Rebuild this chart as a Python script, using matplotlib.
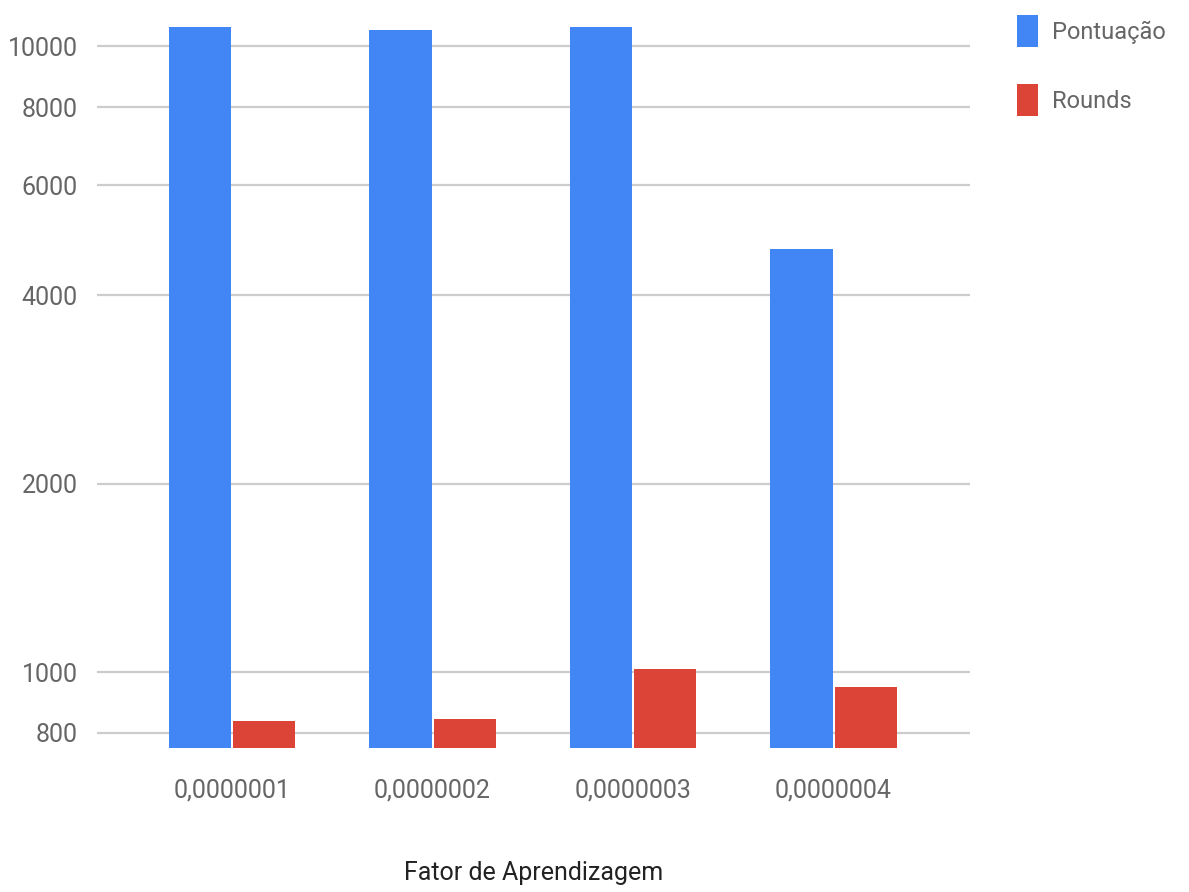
import numpy as np
import matplotlib.pyplot as plt

# learning-rate experiment results
fatores = ['0,0000001', '0,0000002', '0,0000003', '0,0000004']
pontuacao = [10740, 10620, 10740, 4750]
rounds = [834, 842, 1013, 946]
yticks = [800, 1000, 2000, 4000, 6000, 8000, 10000]

plt.rcParams['font.family'] = ['Roboto', 'DejaVu Sans']

fig = plt.figure(figsize=(11.89, 8.92), dpi=100)
ax = fig.add_axes([0.0816, 0.1614, 0.7342, 0.8162])

x = np.arange(len(fatores))
w = 0.31
ax.bar(x - 0.16, pontuacao, w, color='#4285F4', label='Pontuação', zorder=3)
ax.bar(x + 0.16, rounds, w, color='#DB4437', label='Rounds', zorder=3)

ax.set_yscale('log')
ax.set_ylim(756, 11020)
ax.set_xlim(-0.673, 3.68)
ax.set_yticks(yticks)
ax.set_yticklabels([str(t) for t in yticks])
ax.yaxis.set_minor_locator(plt.NullLocator())
ax.set_xticks(x)
ax.set_xticklabels(fatores)

ax.grid(axis='y', color='#cccccc', lw=1.6, zorder=0)
for s in ax.spines.values():
    s.set_visible(False)
ax.tick_params(length=0, labelsize=18, colors='#666666')
ax.tick_params(axis='y', pad=14)
ax.tick_params(axis='x', pad=22)

ax.set_xlabel('Fator de Aprendizagem', fontsize=18, color='#222222', labelpad=42)

ax.legend(loc='upper left', bbox_to_anchor=(1008 / 1189, 1 - 6 / 892),
          bbox_transform=fig.transFigure, frameon=False, fontsize=17,
          handlelength=0.85, handleheight=1.7, handletextpad=0.6,
          labelspacing=1.55, labelcolor='#666666', borderaxespad=0)

fig.savefig('out.png', dpi=100)
